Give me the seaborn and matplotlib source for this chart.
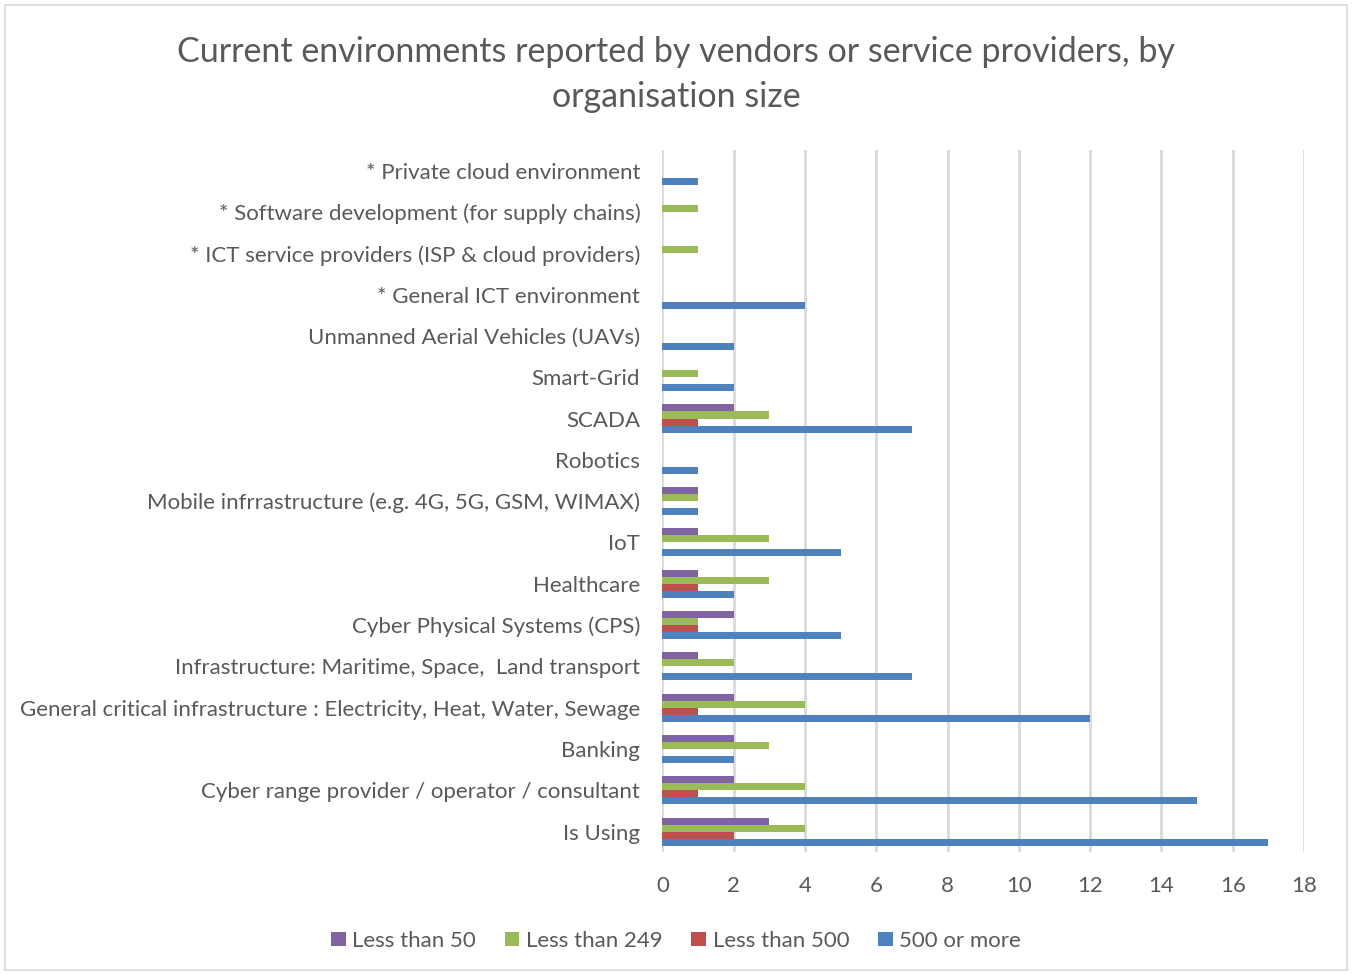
import matplotlib
matplotlib.use("Agg")
import matplotlib.pyplot as plt
import seaborn as sns
import pandas as pd
from matplotlib.patches import Rectangle

categories = [
    "* Private cloud environment",
    "* Software development (for supply chains)",
    "* ICT service providers (ISP & cloud providers)",
    "* General ICT environment",
    "Unmanned Aerial Vehicles (UAVs)",
    "Smart-Grid",
    "SCADA",
    "Robotics",
    "Mobile infrrastructure (e.g. 4G, 5G, GSM, WIMAX)",
    "IoT",
    "Healthcare",
    "Cyber Physical Systems (CPS)",
    "Infrastructure: Maritime, Space,  Land transport",
    "General critical infrastructure : Electricity, Heat, Water, Sewage",
    "Banking",
    "Cyber range provider / operator / consultant",
    "Is Using",
]
series_names = ["Less than 50", "Less than 249", "Less than 500", "500 or more"]
less_than_50 = [0, 0, 0, 0, 0, 0, 2, 0, 1, 1, 1, 2, 1, 2, 2, 2, 3]
less_than_249 = [0, 1, 1, 0, 0, 1, 3, 0, 1, 3, 3, 1, 2, 4, 3, 4, 4]
less_than_500 = [0, 0, 0, 0, 0, 0, 1, 0, 0, 0, 1, 1, 0, 1, 0, 1, 2]
five_hundred_plus = [1, 0, 0, 4, 2, 2, 7, 1, 1, 5, 2, 5, 7, 12, 2, 15, 17]
x_ticks = [0, 2, 4, 6, 8, 10, 12, 14, 16, 18]

colors = ["#8064A2", "#9BBB59", "#C0504D", "#4F81BD"]

rows = []
for name, vals in zip(series_names,
                      [less_than_50, less_than_249, less_than_500, five_hundred_plus]):
    for c, v in zip(categories, vals):
        rows.append({"Category": c, "Series": name, "Value": v})
df = pd.DataFrame(rows)

sns.set_theme(style="white")
plt.rcParams["font.family"] = ["Lato", "DejaVu Sans"]
text_color = "#595959"

fig = plt.figure(figsize=(13.52, 9.74), dpi=100)
ax = fig.add_axes([0.49, 0.125, 0.4745, 0.721])

sns.barplot(data=df, y="Category", x="Value", hue="Series",
            order=categories, hue_order=series_names, palette=colors,
            orient="h", width=0.68, linewidth=0, saturation=1, ax=ax, legend=True)

ax.set_xlim(0, 18)
ax.set_xticks(x_ticks)
ax.set_ylim(len(categories) - 0.5, -0.5)
ax.xaxis.grid(True, color="#D9D9D9", linewidth=2)
ax.set_axisbelow(True)
for s in ax.spines.values():
    s.set_visible(False)
ax.set_xlabel("")
ax.set_ylabel("")
ax.tick_params(axis="x", labelsize=16, colors=text_color, pad=17, length=0)
ax.tick_params(axis="y", labelsize=16, colors=text_color, pad=16, length=0)

leg = ax.get_legend()
handles, labels = ax.get_legend_handles_labels()
leg.remove()
fig.legend(handles, labels, loc="center", bbox_to_anchor=(0.5, 0.034), ncol=4,
           frameon=False, fontsize=16, labelcolor=text_color,
           handlelength=0.65, handleheight=0.65, handletextpad=0.3, columnspacing=1.3)

fig.suptitle("Current environments reported by vendors or service providers, by\norganisation size",
             y=0.963, fontsize=24.5, color=text_color, linespacing=1.5)

fig.patches.append(Rectangle((0.004, 0.004), 0.992, 0.991, transform=fig.transFigure,
                             fill=False, edgecolor="#D9D9D9", linewidth=1.2))

fig.savefig("out.png", dpi=100)
